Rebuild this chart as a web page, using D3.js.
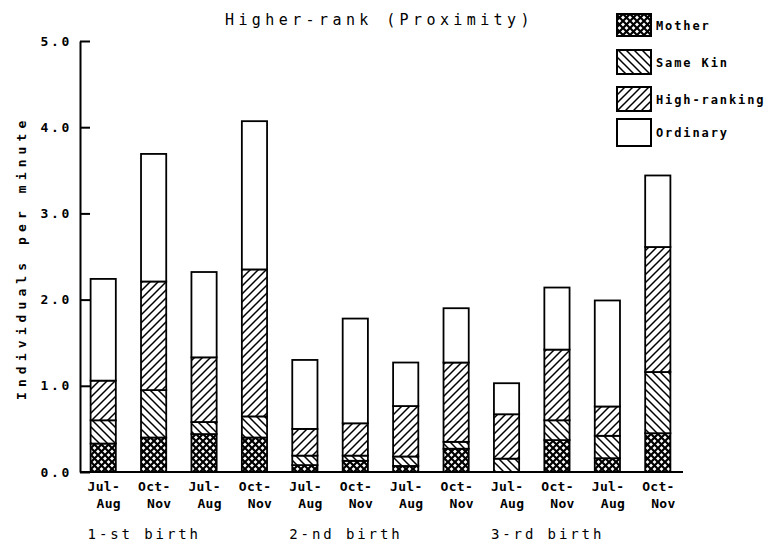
<!DOCTYPE html>
<html>
<head>
<meta charset="utf-8">
<script src="https://cdn.jsdelivr.net/npm/d3@7"></script>
<style>
  html, body { margin: 0; padding: 0; background: #fff; }
  svg { display: block; }
  text { font-family: "DejaVu Sans Mono", "Liberation Mono", monospace; fill: #000; }
</style>
</head>
<body>
<svg id="chart" width="781" height="543"></svg>
<script>
// ---- data ----
const periods = ["Jul-|Aug", "Oct-|Nov", "Jul-|Aug", "Oct-|Nov", "Jul-|Aug", "Oct-|Nov",
                 "Jul-|Aug", "Oct-|Nov", "Jul-|Aug", "Oct-|Nov", "Jul-|Aug", "Oct-|Nov"];
const births = ["1-st birth", "2-nd birth", "3-rd birth"];
const seriesNames = ["Mother", "Same Kin", "High-ranking", "Ordinary"];
const mother      = [0.33, 0.40, 0.44, 0.40, 0.08, 0.13, 0.07, 0.27, 0.00, 0.37, 0.16, 0.45];
const sameKin     = [0.27, 0.55, 0.14, 0.245, 0.11, 0.06, 0.11, 0.08, 0.155, 0.23, 0.26, 0.71];
const highRanking = [0.46, 1.26, 0.75, 1.705, 0.31, 0.375, 0.585, 0.92, 0.515, 0.82, 0.34, 1.45];
const ordinary    = [1.18, 1.48, 0.99, 1.72, 0.80, 1.215, 0.505, 0.63, 0.36, 0.72, 1.23, 0.83];
const yTicks = [0, 1, 2, 3, 4, 5];
const title = "Higher-rank (Proximity)";
const yLabel = "Individuals per minute";

// ---- build table ----
const table = periods.map((p, i) => ({
  idx: i, period: p,
  "Mother": mother[i], "Same Kin": sameKin[i],
  "High-ranking": highRanking[i], "Ordinary": ordinary[i]
}));

const svg = d3.select("#chart");
const defs = svg.append("defs");

// patterns
const pCross = defs.append("pattern").attr("id", "pat-mother")
  .attr("patternUnits", "userSpaceOnUse").attr("width", 7).attr("height", 7);
pCross.append("rect").attr("width", 7).attr("height", 7).attr("fill", "#fff");
pCross.append("path").attr("d", "M-1,-1 L8,8 M-1,8 L8,-1")
  .attr("stroke", "#000").attr("stroke-width", 2.2).attr("fill", "none");

const pBack = defs.append("pattern").attr("id", "pat-samekin")
  .attr("patternUnits", "userSpaceOnUse").attr("width", 8).attr("height", 8);
pBack.append("rect").attr("width", 8).attr("height", 8).attr("fill", "#fff");
pBack.append("path").attr("d", "M-2,6 L2,10 M0,0 L8,8 M6,-2 L10,2")
  .attr("stroke", "#000").attr("stroke-width", 1.5).attr("fill", "none");

const pFwd = defs.append("pattern").attr("id", "pat-high")
  .attr("patternUnits", "userSpaceOnUse").attr("width", 8).attr("height", 8);
pFwd.append("rect").attr("width", 8).attr("height", 8).attr("fill", "#fff");
pFwd.append("path").attr("d", "M-2,2 L2,-2 M0,8 L8,0 M6,10 L10,6")
  .attr("stroke", "#000").attr("stroke-width", 1.5).attr("fill", "none");

const fills = {
  "Mother": "url(#pat-mother)",
  "Same Kin": "url(#pat-samekin)",
  "High-ranking": "url(#pat-high)",
  "Ordinary": "#fff"
};

// scales
const x = d3.scaleBand().domain(d3.range(periods.length)).range([78, 683])
  .paddingInner(0.5).paddingOuter(0.25);
const y = d3.scaleLinear().domain([0, 5]).range([472, 41]);

const stack = d3.stack().keys(seriesNames);
const layers = stack(table);

// bars
const g = svg.append("g");
layers.forEach(layer => {
  g.selectAll(null).data(layer).enter().append("rect")
    .attr("x", d => x(d.data.idx))
    .attr("y", d => y(d[1]))
    .attr("width", x.bandwidth())
    .attr("height", d => Math.max(0, y(d[0]) - y(d[1])))
    .attr("fill", fills[layer.key])
    .attr("stroke", "#000")
    .attr("stroke-width", 1.8);
});

// y axis
const yAxis = d3.axisLeft(y).tickValues(yTicks).tickFormat(d3.format(".1f"))
  .tickSizeInner(-10).tickSizeOuter(0).tickPadding(8);
const ya = svg.append("g").attr("transform", "translate(80,0)").call(yAxis);
ya.select(".domain").attr("stroke", "#000").attr("stroke-width", 2);
ya.selectAll(".tick line").attr("stroke", "#000").attr("stroke-width", 2);
ya.selectAll(".tick text").attr("font-size", 13).attr("font-weight", "bold")
  .attr("letter-spacing", 2.7).attr("font-family", "DejaVu Sans Mono");

// x axis baseline
const xa = d3.axisBottom(x).tickSize(0).tickFormat("");
const xg = svg.append("g").attr("transform", `translate(0,${y(0)})`).call(xa);
xg.select(".domain").attr("d", `M80,0H${x.range()[1]}`).attr("stroke", "#000").attr("stroke-width", 2);

// x labels
const lab = svg.append("g");
periods.forEach((p, i) => {
  const [a, b] = p.split("|");
  const x0 = x(i);
  lab.append("text").attr("x", x0 - 3).attr("y", 491)
    .attr("font-size", 13).attr("font-weight", "bold").attr("letter-spacing", 0.3).text(a);
  lab.append("text").attr("x", x0 + 6).attr("y", 508)
    .attr("font-size", 13).attr("font-weight", "bold").attr("letter-spacing", 0.3).text(b);
});
births.forEach((b, k) => {
  lab.append("text").attr("x", x(k * 4) - 3).attr("y", 539)
    .attr("font-size", 14).attr("letter-spacing", 2.9).text(b);
});

// title
svg.append("text").attr("x", 225).attr("y", 25)
  .attr("font-size", 15).attr("letter-spacing", 4.4).text(title);

// y label
svg.append("text").attr("transform", "translate(26,400) rotate(-90)")
  .attr("font-size", 13).attr("font-weight", "bold").attr("letter-spacing", 5.1).text(yLabel);

// legend
const legTops = [14, 50, 87, 119];
const legH = [22, 24, 24, 27];
const leg = svg.append("g");
seriesNames.forEach((s, i) => {
  leg.append("rect").attr("x", 617).attr("y", legTops[i]).attr("width", 34).attr("height", legH[i])
    .attr("fill", fills[s]).attr("stroke", "#000").attr("stroke-width", 2);
  leg.append("text").attr("x", 656).attr("y", legTops[i] + legH[i] / 2 + 4.5)
    .attr("font-size", 12).attr("font-weight", "bold").attr("letter-spacing", 1.9).text(s);
});
</script>
</body>
</html>
